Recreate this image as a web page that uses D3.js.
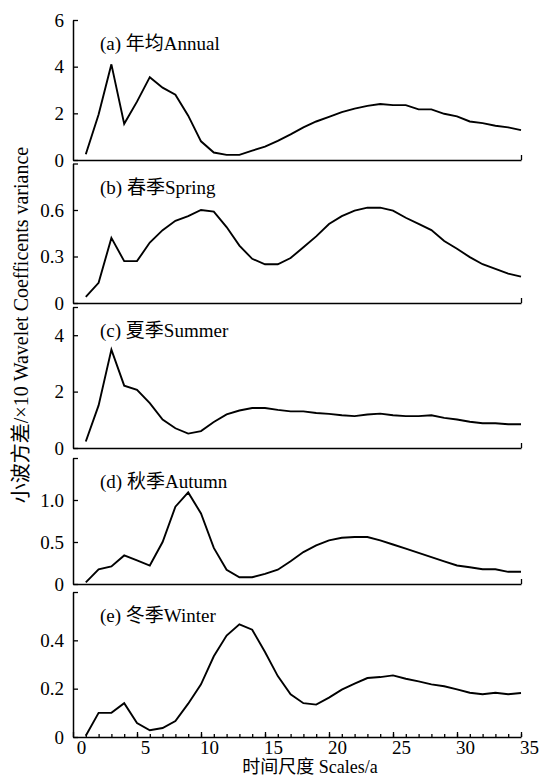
<!DOCTYPE html>
<html>
<head>
<meta charset="utf-8">
<script src="https://cdn.jsdelivr.net/npm/d3@7"></script>
<style>
  body { margin: 0; background: #fff; }
  svg { display: block; }
  text { font-family: "Liberation Serif", "Times New Roman", "Noto Sans CJK SC", serif; fill: #000; }
</style>
</head>
<body>
<div id="chart"></div>
<script>
// time scales (years), one value per scale for each series
const scales = [1, 2, 3, 4, 5, 6, 7, 8, 9, 10, 11, 12, 13, 14, 15, 16, 17, 18, 19, 20,
                21, 22, 23, 24, 25, 26, 27, 28, 29, 30, 31, 32, 33, 34, 35];

const annual = [0.25, 1.95, 4.1, 1.55, 2.5, 3.55, 3.1, 2.8, 1.9, 0.8, 0.32, 0.22, 0.22, 0.4, 0.57,
                0.82, 1.1, 1.4, 1.65, 1.85, 2.05, 2.2, 2.32, 2.4, 2.35, 2.35, 2.17, 2.17, 1.98, 1.87,
                1.65, 1.58, 1.47, 1.4, 1.28];
const spring = [0.04, 0.13, 0.42, 0.27, 0.27, 0.39, 0.47, 0.53, 0.56, 0.6, 0.59, 0.49, 0.37, 0.285, 0.25,
                0.25, 0.29, 0.36, 0.43, 0.51, 0.56, 0.596, 0.615, 0.615, 0.596, 0.55, 0.51, 0.47, 0.4, 0.35,
                0.296, 0.25, 0.22, 0.19, 0.17];
const summer = [0.23, 1.51, 3.49, 2.21, 2.06, 1.59, 1.01, 0.7, 0.51, 0.6, 0.92, 1.19, 1.33, 1.42, 1.42,
                1.35, 1.3, 1.3, 1.24, 1.21, 1.16, 1.13, 1.19, 1.22, 1.16, 1.13, 1.13, 1.16, 1.07, 1.01,
                0.93, 0.88, 0.88, 0.84, 0.84];
const autumn = [0.02, 0.175, 0.21, 0.34, 0.28, 0.22, 0.5, 0.92, 1.09, 0.84, 0.43, 0.17, 0.08, 0.08, 0.12,
                0.17, 0.27, 0.38, 0.46, 0.52, 0.55, 0.56, 0.56, 0.52, 0.47, 0.42, 0.37, 0.32, 0.27, 0.22,
                0.2, 0.175, 0.175, 0.145, 0.145];
const winter = [0.005, 0.1, 0.1, 0.14, 0.058, 0.028, 0.037, 0.066, 0.138, 0.218, 0.334, 0.42, 0.466, 0.444, 0.352,
                0.252, 0.177, 0.14, 0.134, 0.163, 0.196, 0.221, 0.244, 0.248, 0.255, 0.241, 0.23, 0.218, 0.21, 0.197,
                0.183, 0.177, 0.183, 0.177, 0.182];

const panelLabels = ['(a) 年均Annual', '(b) 春季Spring', '(c) 夏季Summer', '(d) 秋季Autumn', '(e) 冬季Winter'];
const yMax = [6, 0.9, 5, 1.5, 0.6];
const yTicks = [[0, 2, 4, 6], [0, 0.3, 0.6], [0, 2, 4], [0, 0.5, 1.0], [0, 0.2, 0.4]];
const yFormats = ['d', '.1f', 'd', '.1f', '.1f'];
const xTicks = [0, 5, 10, 15, 20, 25, 30, 35];

const yTitle = '小波方差/×10 Wavelet Coefficents variance';
const xTitle = '时间尺度 Scales/a';

const series = [annual, spring, summer, autumn, winter];

// panel boxes (pixel positions)
const panelTop = [20, 163.5, 307, 458, 592];
const panelBottom = [160, 303, 448, 584, 737];

const width = 540;
const height = 778;
const fontSize = 19;

const svg = d3.select('#chart')
    .append('svg')
    .attr('width', width)
    .attr('height', height);

const x = d3.scaleLinear().domain([0, 35]).range([73, 521]);

series.forEach((values, i) => {
    const y = d3.scaleLinear().domain([0, yMax[i]]).range([panelBottom[i], panelTop[i]]);
    const g = svg.append('g');
    const fmt = d3.format(yFormats[i]);

    // left axis, ticks pointing inward
    const tickVals = yTicks[i].slice();
    if (tickVals[tickVals.length - 1] !== yMax[i]) tickVals.push(yMax[i]);
    const yAxis = g.append('g')
        .attr('transform', `translate(${x(0)},0)`)
        .call(d3.axisLeft(y)
            .tickValues(tickVals)
            .tickSizeInner(-5)
            .tickSizeOuter(0)
            .tickPadding(9)
            .tickFormat(d => yTicks[i].includes(d) ? (d === 0 ? '0' : fmt(d)) : ''));

    // bottom axis
    const xAxis = g.append('g')
        .attr('transform', `translate(0,${panelBottom[i]})`);
    if (i < series.length - 1) {
        xAxis.call(d3.axisBottom(x).tickValues([35]).tickSizeInner(-5).tickSizeOuter(0).tickFormat(''));
    } else {
        // minor ticks every year
        xAxis.call(d3.axisBottom(x).tickValues(scales).tickSizeInner(-3).tickSizeOuter(0).tickFormat(''));
        const major = g.append('g')
            .attr('transform', `translate(0,${panelBottom[i]})`)
            .call(d3.axisBottom(x).tickValues(xTicks).tickSizeInner(-5).tickSizeOuter(0).tickPadding(3));
        major.select('.domain').remove();
        major.attr('font-family', null);
        major.selectAll('text')
            .attr('dx', 8)
            .style('font-size', fontSize + 'px');
        major.selectAll('line').attr('stroke-width', 1.3);
    }

    [yAxis, xAxis].forEach(a => {
        a.attr('font-family', null);
        a.select('.domain').attr('stroke-width', 1.5);
        a.selectAll('line').attr('stroke-width', 1.3);
        a.selectAll('text').style('font-size', fontSize + 'px');
    });

    // series line
    const line = d3.line()
        .x((d, k) => x(scales[k]))
        .y(d => y(d));

    g.append('path')
        .datum(values)
        .attr('fill', 'none')
        .attr('stroke', '#000')
        .attr('stroke-width', 1.9)
        .attr('d', line);

    // panel label
    g.append('text')
        .attr('x', 100)
        .attr('y', panelTop[i] + 30)
        .style('font-size', fontSize + 'px')
        .text(panelLabels[i]);
});

// axis titles
svg.append('text')
    .attr('transform', 'translate(28,325) rotate(-90)')
    .attr('text-anchor', 'middle')
    .style('font-size', '20px')
    .text(yTitle);

svg.append('text')
    .attr('x', 310)
    .attr('y', 773)
    .attr('text-anchor', 'middle')
    .style('font-size', '18px')
    .text(xTitle);
</script>
</body>
</html>
